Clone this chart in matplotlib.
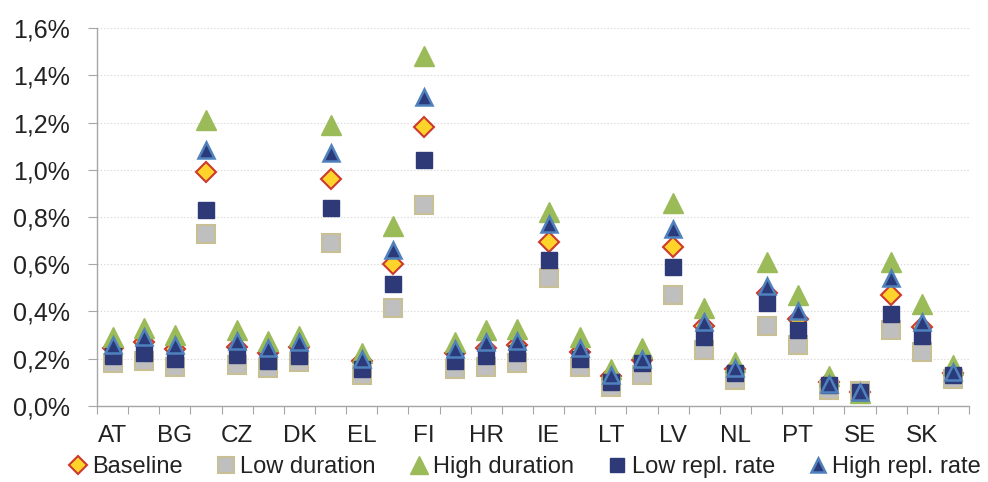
import numpy as np
import matplotlib.pyplot as plt
from matplotlib.ticker import FuncFormatter

countries = ['AT', 'BE', 'BG', 'CY', 'CZ', 'DE', 'DK', 'EE', 'EL', 'ES', 'FI', 'FR', 'HR', 'HU',
             'IE', 'IT', 'LT', 'LU', 'LV', 'MT', 'NL', 'PL', 'PT', 'RO', 'SE', 'SI', 'SK', 'UK']

# values in percent
baseline = [0.245, 0.27, 0.24, 0.99, 0.25, 0.225, 0.25, 0.96, 0.19, 0.60, 1.18, 0.225, 0.245, 0.26,
            0.695, 0.23, 0.125, 0.195, 0.675, 0.34, 0.155, 0.48, 0.37, 0.10, 0.06, 0.47, 0.335, 0.14]
low_duration = [0.18, 0.19, 0.165, 0.73, 0.175, 0.16, 0.185, 0.69, 0.13, 0.415, 0.85, 0.155, 0.165, 0.18,
                0.54, 0.165, 0.08, 0.13, 0.47, 0.237, 0.11, 0.34, 0.26, 0.068, 0.065, 0.32, 0.23, 0.115]
high_duration = [0.29, 0.33, 0.30, 1.21, 0.32, 0.275, 0.295, 1.19, 0.225, 0.76, 1.48, 0.27, 0.32, 0.325,
                 0.82, 0.29, 0.155, 0.245, 0.86, 0.415, 0.185, 0.61, 0.47, 0.125, 0.055, 0.61, 0.43, 0.175]
low_repl = [0.21, 0.225, 0.20, 0.83, 0.215, 0.19, 0.21, 0.84, 0.155, 0.515, 1.04, 0.19, 0.21, 0.225,
            0.62, 0.20, 0.10, 0.18, 0.59, 0.29, 0.14, 0.435, 0.32, 0.09, 0.06, 0.39, 0.296, 0.13]
high_repl = [0.26, 0.29, 0.26, 1.085, 0.275, 0.245, 0.27, 1.07, 0.20, 0.66, 1.31, 0.24, 0.27, 0.275,
             0.77, 0.245, 0.13, 0.20, 0.75, 0.355, 0.16, 0.51, 0.40, 0.093, 0.06, 0.54, 0.356, 0.145]

plt.rcParams['font.family'] = ['Liberation Sans', 'DejaVu Sans']
text_color = '#222222'

fig = plt.figure(figsize=(9.88, 4.82), dpi=100)
ax = fig.add_axes([0.0982, 0.1577, 0.8826, 0.7842])

x = np.arange(len(countries))
ax.plot(x, baseline, linestyle='none', marker='D', ms=10, mfc='#FFD42A', mec='#CC3A2E', mew=1.5,
        label='Baseline')
ax.plot(x, low_duration, linestyle='none', marker='s', ms=13.5, mfc='#BFBFBF', mec='#C9BF94', mew=1.5,
        label='Low duration')
ax.plot(x, high_duration, linestyle='none', marker='^', ms=15, mfc='#9BBB59', mec='#9BBB59', mew=1,
        label='High duration')
ax.plot(x, low_repl, linestyle='none', marker='s', ms=11, mfc='#2E3A78', mec='#2E3A78', mew=1,
        label='Low repl. rate')
ax.plot(x, high_repl, linestyle='none', marker='^', ms=11, mfc='#2B3A7A', mec='#4F81BD', mew=1.8,
        label='High repl. rate')

ax.set_xlim(-0.5, len(countries) - 0.5)
ax.set_ylim(0, 1.6)
ax.set_yticks(np.arange(0, 1.61, 0.2))
ax.yaxis.set_major_formatter(FuncFormatter(lambda v, p: f'{v:.1f}%'.replace('.', ',')))
ax.grid(axis='y', linestyle=(0, (1.2, 1.8)), color='#d9d9d9', linewidth=0.8)
ax.set_axisbelow(True)

# ticks between categories, labels on every other category
ax.set_xticks(np.arange(-0.5, len(countries), 1.0))
ax.set_xticklabels([])
ax.set_xticks(x[::2], minor=True)
ax.set_xticklabels(countries[::2], minor=True)
ax.tick_params(axis='x', which='major', length=6, color='#a6a6a6', direction='out')
ax.tick_params(axis='x', which='minor', length=0, pad=14, labelsize=17.5, labelcolor=text_color)
ax.tick_params(axis='y', length=6.5, color='#a6a6a6', pad=13, labelsize=18, labelcolor=text_color)

for s in ['top', 'right']:
    ax.spines[s].set_visible(False)
for s in ['left', 'bottom']:
    ax.spines[s].set_color('#a6a6a6')
    ax.spines[s].set_linewidth(1)

fig.legend(loc='center', bbox_to_anchor=(0.53, 1 - 467 / 482), ncol=5, frameon=False,
           fontsize=17, handletextpad=0.1, columnspacing=1.33, handlelength=1.0,
           markerscale=0.9, labelcolor=text_color, borderpad=0)

fig.savefig('out.png', dpi=100)
